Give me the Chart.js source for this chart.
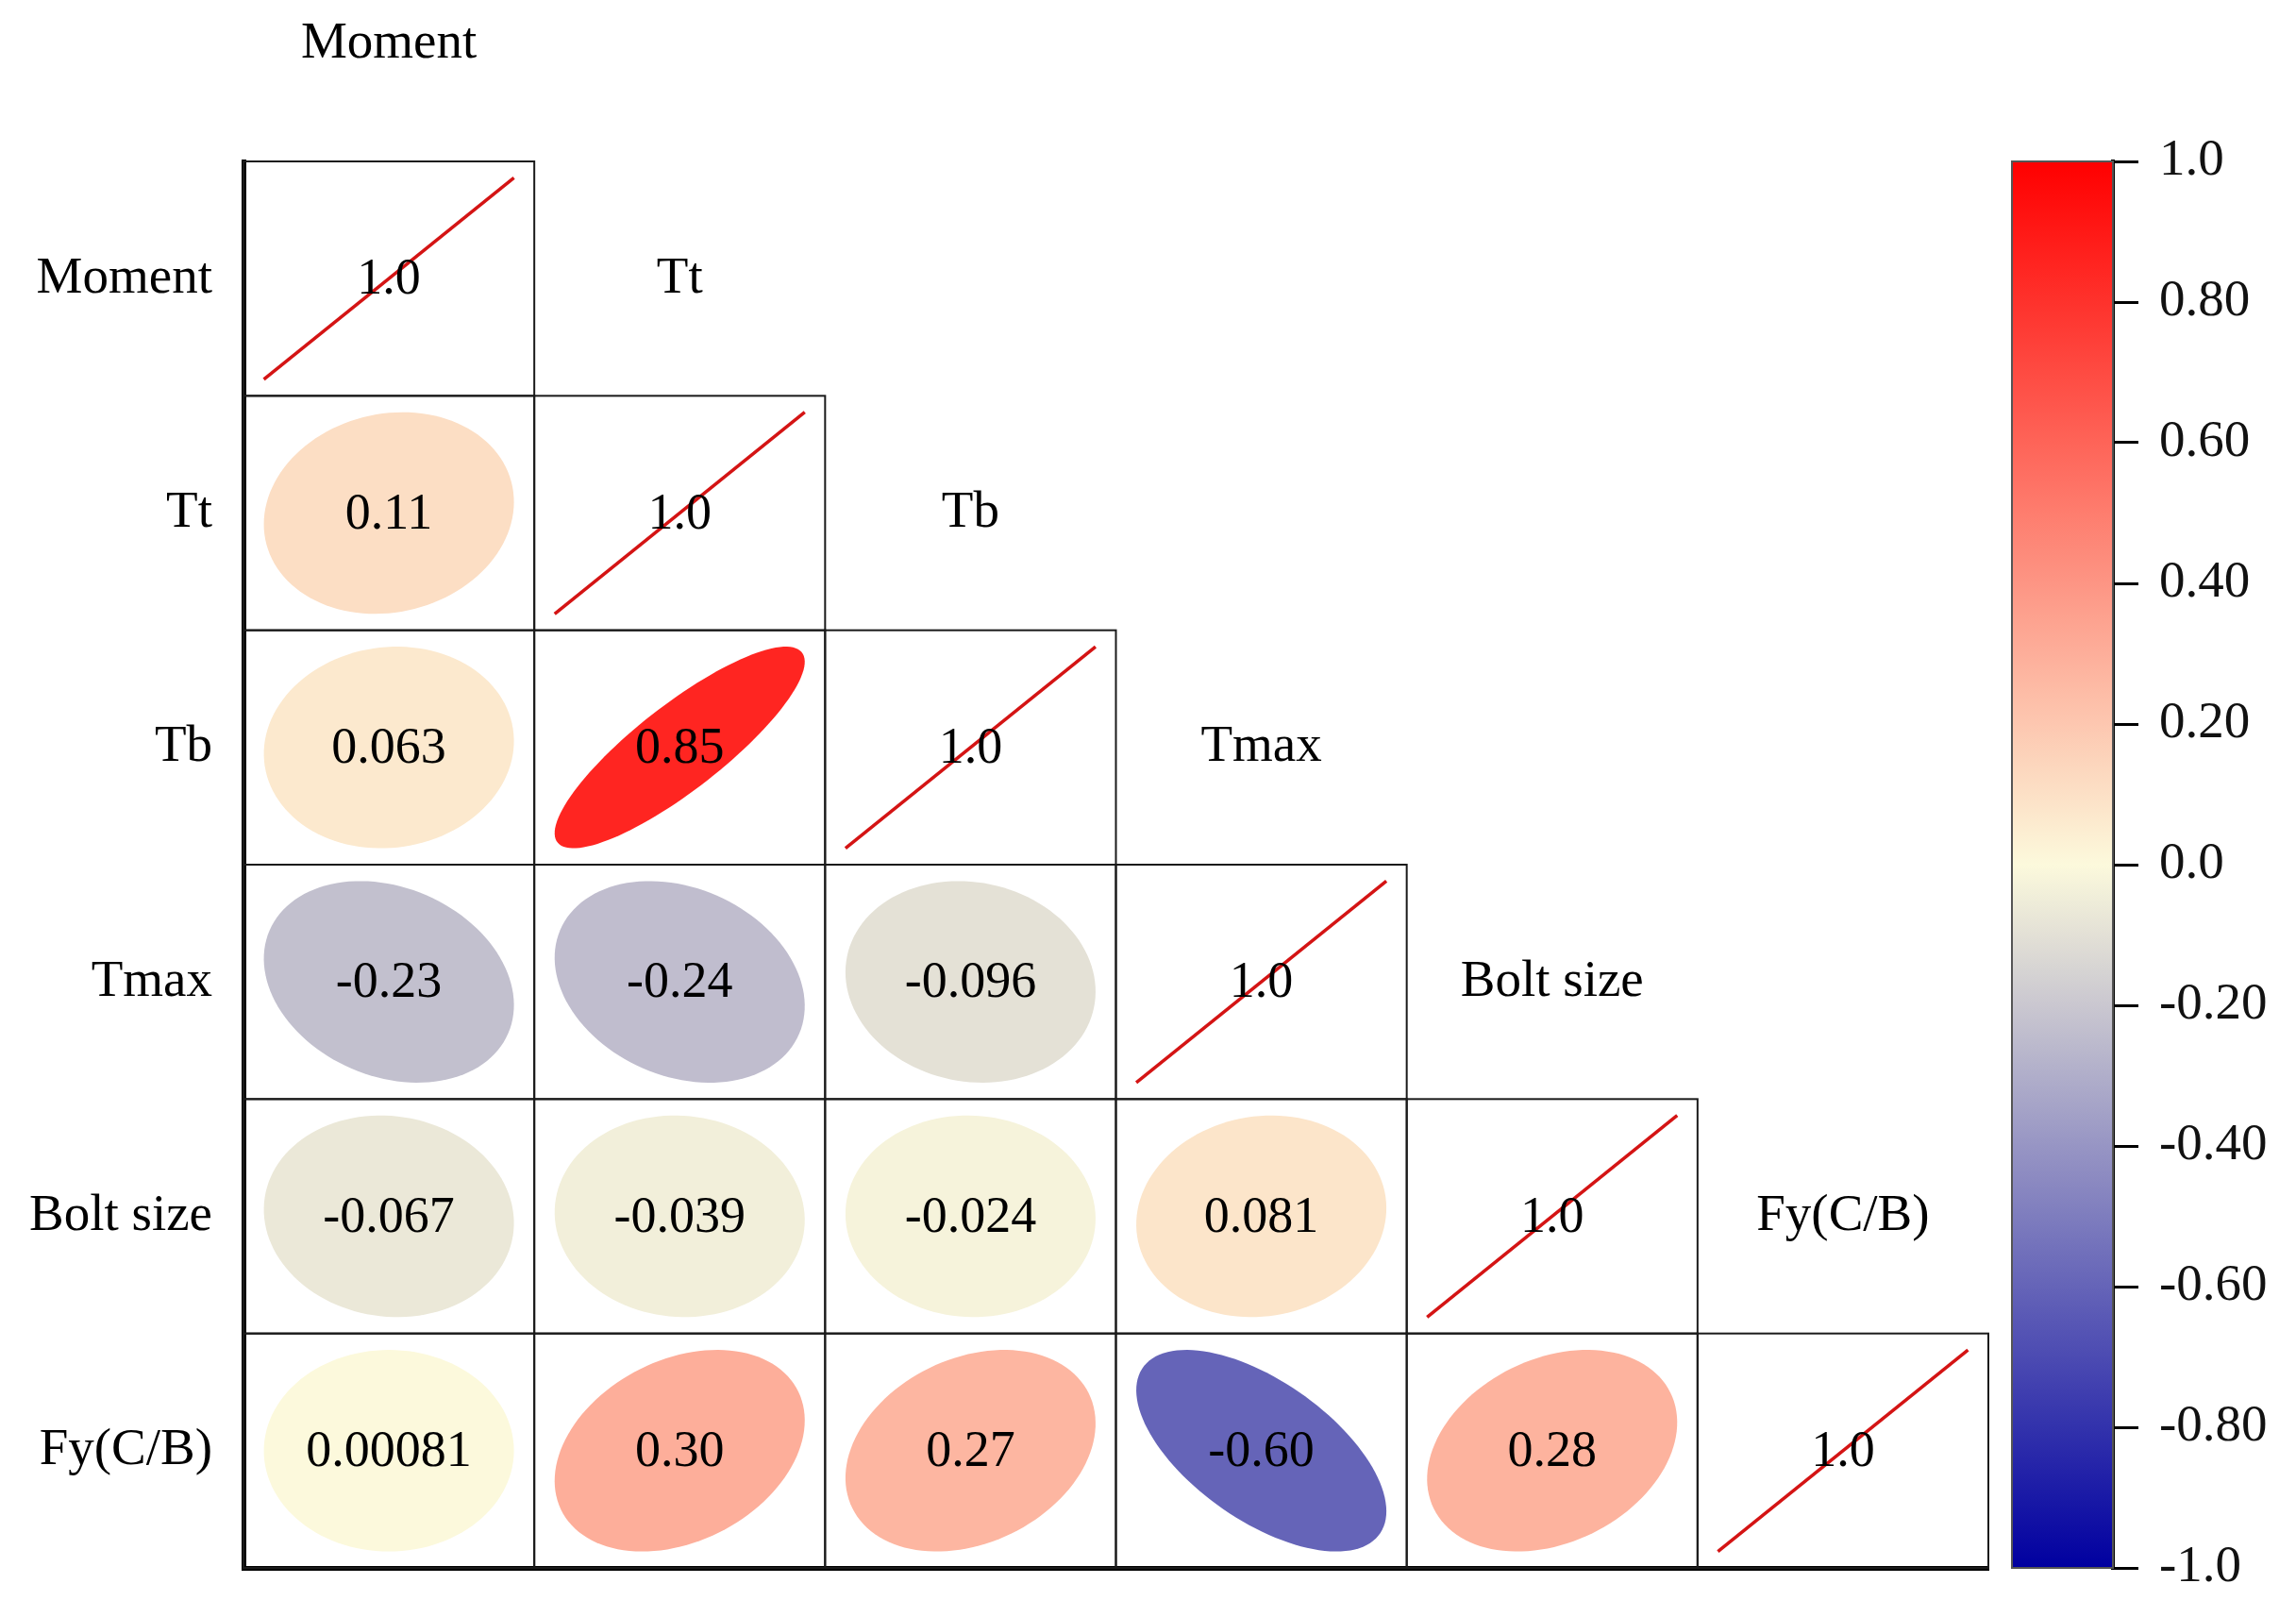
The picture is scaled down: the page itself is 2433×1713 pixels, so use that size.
<!DOCTYPE html>
<html>
<head>
<meta charset="utf-8">
<script src="https://cdn.jsdelivr.net/npm/chart.js@4.4.1/dist/chart.umd.min.js"></script>
<style>
  body { margin: 0; background: #fff; }
  #wrap { position: relative; width: 2433px; height: 1713px; }
  #corrChart { position: absolute; left: 0; top: 0; }
  #barChart { position: absolute; left: 2131px; top: 0; }
</style>
</head>
<body>
<div id="wrap">
  <canvas id="corrChart" width="2433" height="1713"></canvas>
  <canvas id="barChart" width="302" height="1713"></canvas>
</div>
<script>
// variables (rows / columns of the matrix)
const rowLabels = ['Moment', 'Tt', 'Tb', 'Tmax', 'Bolt size', 'Fy(C/B)'];

// lower triangle of the correlation matrix, diagonal included
const corrRows = [
    [1.0],
    [0.11, 1.0],
    [0.063, 0.85, 1.0],
    [-0.23, -0.24, -0.096, 1.0],
    [-0.067, -0.039, -0.024, 0.081, 1.0],
    [0.00081, 0.30, 0.27, -0.60, 0.28, 1.0]
];

// colour bar
const cbTickValues = [1, 0.8, 0.6, 0.4, 0.2, 0, -0.2, -0.4, -0.6, -0.8, -1];
const cbTickLabels = ['1.0', '0.80', '0.60', '0.40', '0.20', '0.0', '-0.20', '-0.40', '-0.60', '-0.80', '-1.0'];
const cbStopValues = [-1, 0, 1];
const cbStopColors = [[0, 0, 160], [252, 249, 220], [255, 0, 0]];

const FONT = "'Liberation Serif', 'Times New Roman', serif";

function colorFor(v) {
    for (let i = 0; i < cbStopValues.length - 1; i++) {
        const a = cbStopValues[i], b = cbStopValues[i + 1];
        if (v >= a && v <= b) {
            const t = (v - a) / (b - a);
            const c0 = cbStopColors[i], c1 = cbStopColors[i + 1];
            const c = c0.map((x, k) => Math.round(x + (c1[k] - x) * t));
            return `rgb(${c[0]}, ${c[1]}, ${c[2]})`;
        }
    }
    return 'rgb(255,255,255)';
}

const cellData = [];
corrRows.forEach((row, r) => {
    row.forEach((v, c) => cellData.push({ x: c, y: r, v: v }));
});

// draws ellipses, diagonal lines, cell frames and labels from the dataset points
const corrPlugin = {
    id: 'corrCells',
    afterDatasetsDraw(chart) {
        const ctx = chart.ctx;
        const xs = chart.scales.x, ys = chart.scales.y;
        const cw = xs.getPixelForValue(1) - xs.getPixelForValue(0);
        const ch = ys.getPixelForValue(1) - ys.getPixelForValue(0);
        const meta = chart.getDatasetMeta(0);
        const rx = 0.43 * cw, ry = 0.43 * ch;

        ctx.save();
        meta.data.forEach((el, i) => {
            const d = cellData[i];
            const cx = el.x, cy = el.y;
            if (d.v >= 0.999) {
                ctx.strokeStyle = '#d41414';
                ctx.lineWidth = 3.5;
                ctx.beginPath();
                ctx.moveTo(cx - rx, cy + ry);
                ctx.lineTo(cx + rx, cy - ry);
                ctx.stroke();
            } else {
                const dd = Math.acos(d.v);
                ctx.fillStyle = colorFor(d.v);
                ctx.beginPath();
                for (let k = 0; k <= 120; k++) {
                    const t = k / 120 * Math.PI * 2;
                    const px = cx + rx * Math.cos(t + dd / 2);
                    const py = cy - ry * Math.cos(t - dd / 2);
                    if (k === 0) ctx.moveTo(px, py); else ctx.lineTo(px, py);
                }
                ctx.closePath();
                ctx.fill();
            }
            // frame
            ctx.strokeStyle = '#1a1a1a';
            ctx.lineWidth = 2;
            ctx.strokeRect(cx - cw / 2, cy - ch / 2, cw, ch);
        });

        ctx.fillStyle = '#000';
        ctx.textAlign = 'center';
        ctx.textBaseline = 'middle';
        ctx.font = `54px ${FONT}`;
        meta.data.forEach((el, i) => {
            ctx.fillText(cellData[i].v.toPrecision(2), el.x, el.y + 2);
        });

        // column names sit just above each diagonal cell
        ctx.font = `55px ${FONT}`;
        rowLabels.forEach((name, i) => {
            const px = xs.getPixelForValue(i);
            const py = ys.getPixelForValue(i - 1);
            ctx.fillText(name, px, py);
        });
        ctx.restore();
    }
};

new Chart(document.getElementById('corrChart'), {
    type: 'scatter',
    data: {
        datasets: [{
            data: cellData,
            pointRadius: 0,
            pointHoverRadius: 0
        }]
    },
    options: {
        responsive: false,
        animation: false,
        devicePixelRatio: 1,
        events: [],
        layout: { padding: { top: 171, right: 326, left: 0, bottom: 0 } },
        plugins: { legend: { display: false }, tooltip: { enabled: false } },
        scales: {
            x: {
                type: 'linear',
                min: -0.5,
                max: 5.5,
                grid: { display: false },
                border: { display: true, color: '#000', width: 5 },
                ticks: { display: false },
                afterFit: (s) => { s.height = 52; s.paddingLeft = 0; s.paddingRight = 0; }
            },
            y: {
                type: 'linear',
                min: -0.5,
                max: 5.5,
                reverse: true,
                grid: { display: false, drawTicks: false },
                border: { display: true, color: '#000', width: 5 },
                afterBuildTicks: (s) => { s.ticks = rowLabels.map((_, i) => ({ value: i })); },
                ticks: {
                    autoSkip: false,
                    padding: 33,
                    color: '#000',
                    font: { family: FONT, size: 55 },
                    callback: (v) => rowLabels[v]
                },
                afterFit: (s) => { s.width = 258; s.paddingTop = 0; s.paddingBottom = 0; }
            }
        }
    },
    plugins: [corrPlugin]
});

// colour bar
const gradientPlugin = {
    id: 'cbGradient',
    beforeDatasetsDraw(chart) {
        const { ctx, chartArea: a } = chart;
        const g = ctx.createLinearGradient(0, a.bottom, 0, a.top);
        for (let i = 0; i <= 40; i++) {
            const v = -1 + i / 20;
            g.addColorStop((v + 1) / 2, colorFor(Math.min(1, v)));
        }
        ctx.save();
        ctx.fillStyle = g;
        ctx.fillRect(a.left, a.top, a.right - a.left, a.bottom - a.top);
        ctx.strokeStyle = '#555';
        ctx.lineWidth = 2;
        ctx.strokeRect(a.left + 1, a.top, a.right - a.left - 1, a.bottom - a.top);
        ctx.restore();
    }
};

new Chart(document.getElementById('barChart'), {
    type: 'scatter',
    data: { datasets: [] },
    options: {
        responsive: false,
        animation: false,
        devicePixelRatio: 1,
        events: [],
        layout: { padding: { top: 171, bottom: 52, left: 0, right: 0 } },
        plugins: { legend: { display: false }, tooltip: { enabled: false } },
        scales: {
            x: { display: false, min: 0, max: 1 },
            y: {
                position: 'right',
                min: -1,
                max: 1,
                grid: { drawOnChartArea: false, color: '#000', lineWidth: 3, tickLength: 27 },
                border: { display: true, color: '#000', width: 4 },
                afterBuildTicks: (s) => { s.ticks = cbTickValues.map(v => ({ value: v })); },
                ticks: {
                    autoSkip: false,
                    padding: 22,
                    color: '#111',
                    font: { family: FONT, size: 55 },
                    callback: (v, i) => cbTickLabels[i]
                },
                afterFit: (s) => { s.width = 194; s.paddingTop = 0; s.paddingBottom = 0; }
            }
        }
    },
    plugins: [gradientPlugin]
});
</script>
</body>
</html>
